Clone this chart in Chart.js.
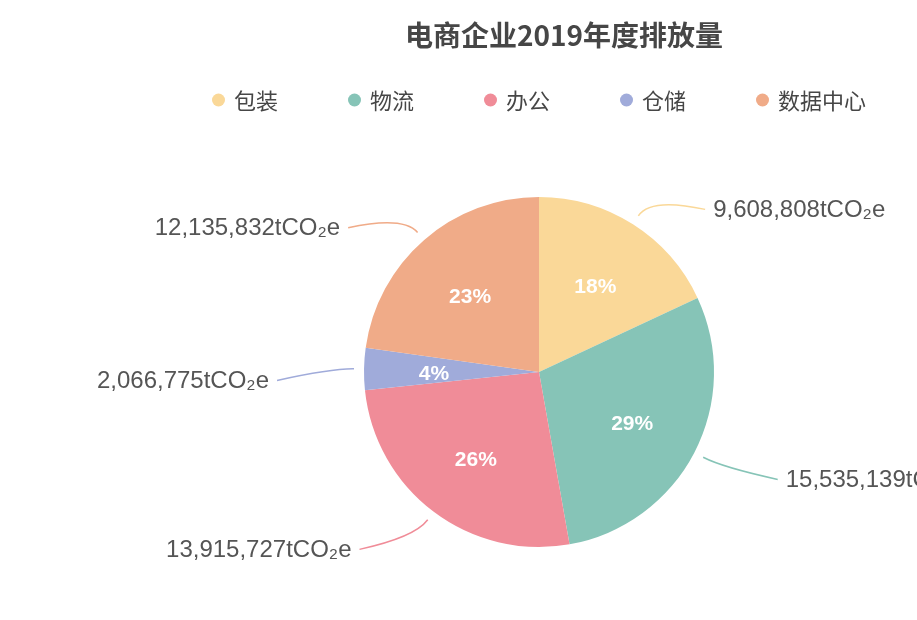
<!DOCTYPE html>
<html>
<head>
<meta charset="utf-8">
<script src="https://cdn.jsdelivr.net/npm/chart.js@4/dist/chart.umd.min.js"></script>
<style>
  html, body { margin: 0; padding: 0; background: #fff; }
  #wrap { width: 917px; height: 620px; position: relative; }
</style>
</head>
<body>
<div id="wrap"><canvas id="pie"></canvas></div>
<script>
// ── Data ───────────────────────────────────────────────────────
const TITLE = '电商企业2019年度排放量';
const CATEGORIES = ['包装', '物流', '办公', '仓储', '数据中心'];
const EMISSIONS = [9608808, 15535139, 13915727, 2066775, 12135832];   // tCO2e
const UNIT = 'tCO₂e';
const COLORS = ['#fad898', '#86c4b7', '#f08c98', '#a0abda', '#f0ab88'];

const TEXT_DARK = '#464646';
const LABEL_TEXT = '#555555';
const CJK_FONT = "'Noto Sans CJK SC', sans-serif";
const NUM_FONT = "'Liberation Sans', Arial, sans-serif";

const total = EMISSIONS.reduce((a, b) => a + b, 0);

// ── Header: title + legend ─────────────────────────────────────
const headerPlugin = {
  id: 'header',
  afterDraw(chart) {
    const { ctx, chartArea } = chart;
    const cx = (chartArea.left + chartArea.right) / 2;
    ctx.save();

    // title
    ctx.font = `bold 28px ${CJK_FONT}`;
    ctx.fillStyle = TEXT_DARK;
    ctx.textAlign = 'center';
    ctx.textBaseline = 'middle';
    ctx.fillText(TITLE, cx + 25, 35);

    // legend row
    ctx.font = `22px ${CJK_FONT}`;
    const r = 6.5, gap = 9, spacing = 70;
    const widths = CATEGORIES.map(c => ctx.measureText(c).width);
    const rowW = widths.reduce((a, w) => a + 2 * r + gap + w, 0) + spacing * (CATEGORIES.length - 1);
    let x = cx - rowW / 2;
    const y = 100;
    ctx.textAlign = 'left';
    CATEGORIES.forEach((c, i) => {
      ctx.beginPath();
      ctx.arc(x + r, y, r, 0, Math.PI * 2);
      ctx.fillStyle = COLORS[i];
      ctx.fill();
      ctx.fillStyle = TEXT_DARK;
      ctx.fillText(c, x + 2 * r + gap, y + 1);
      x += 2 * r + gap + widths[i] + spacing;
    });
    ctx.restore();
  }
};

// ── Slice labels: percent inside, value outside ────────────────
const sliceLabelPlugin = {
  id: 'sliceLabels',
  afterDatasetsDraw(chart) {
    const { ctx } = chart;
    const meta = chart.getDatasetMeta(0);
    ctx.save();
    meta.data.forEach((arc, i) => {
      const { x, y, startAngle, endAngle, outerRadius } =
        arc.getProps(['x', 'y', 'startAngle', 'endAngle', 'outerRadius'], true);
      const mid = (startAngle + endAngle) / 2;
      const dx = Math.cos(mid), dy = Math.sin(mid);
      const side = dx >= 0 ? 1 : -1;

      // percent inside
      ctx.font = `600 21px ${NUM_FONT}`;
      ctx.fillStyle = '#ffffff';
      ctx.textAlign = 'center';
      ctx.textBaseline = 'middle';
      const pct = Math.round(EMISSIONS[i] / total * 100) + '%';
      ctx.fillText(pct, x + dx * outerRadius * 0.6, y + dy * outerRadius * 0.6 + 4);

      // leader line
      const p0 = { x: x + dx * (outerRadius + 10), y: y + dy * (outerRadius + 10) };
      const p1 = { x: x + dx * (outerRadius + 32), y: y + dy * (outerRadius + 32) };
      const p2 = { x: p1.x + side * 55, y: p1.y + 12 };
      ctx.beginPath();
      ctx.moveTo(p0.x, p0.y);
      ctx.quadraticCurveTo(p1.x, p1.y, p2.x, p2.y);
      ctx.strokeStyle = COLORS[i];
      ctx.lineWidth = 1.5;
      ctx.stroke();

      // value text
      ctx.font = `24px ${NUM_FONT}`;
      ctx.fillStyle = LABEL_TEXT;
      ctx.textAlign = side > 0 ? 'left' : 'right';
      ctx.fillText(EMISSIONS[i].toLocaleString('en-US') + UNIT, p2.x + side * 8, p2.y + 1);
    });
    ctx.restore();
  }
};

// ── Chart ──────────────────────────────────────────────────────
new Chart(document.getElementById('pie'), {
  type: 'pie',
  data: {
    labels: CATEGORIES,
    datasets: [{
      data: EMISSIONS,
      backgroundColor: COLORS,
      borderWidth: 0,
      hoverOffset: 0,
    }],
  },
  options: {
    responsive: true,
    maintainAspectRatio: false,
    animation: false,
    layout: { padding: { top: 197, bottom: 73, left: 200, right: 39 } },
    plugins: {
      legend: { display: false },
      title: { display: false },
      tooltip: { enabled: false },
    },
  },
  plugins: [headerPlugin, sliceLabelPlugin],
});
</script>
</body>
</html>
